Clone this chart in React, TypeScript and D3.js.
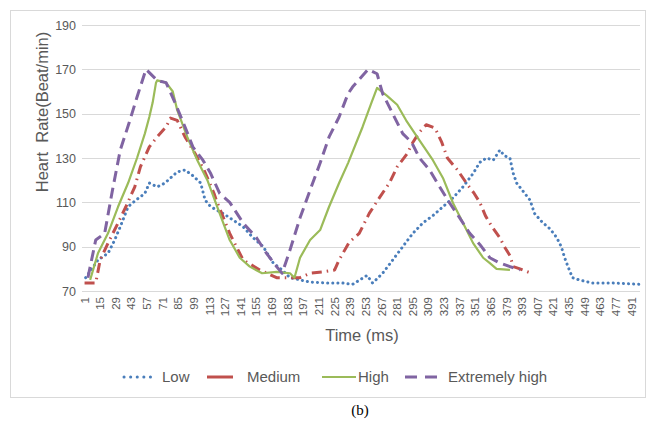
import React, { useEffect, useRef } from 'react'
import * as d3 from 'd3'

// [time index, heart rate]
const low: [number, number][] = [
  [2, 76], [13, 84], [22, 87], [28, 93], [33, 99], [40, 108], [47, 111], [55, 114], [59, 118.7],
  [66, 117], [73, 118.7], [78, 121], [84, 123.7], [91, 124.6], [98, 122], [105, 118.7], [109, 111],
  [114, 108], [125, 105], [134, 102], [143, 99], [152, 94], [161, 90], [170, 82.6], [178, 79.5],
  [185, 76], [194, 75], [203, 74], [218, 73.6], [232, 73.6], [241, 73], [254, 77], [259, 73.6],
  [268, 78], [277, 84], [286, 90], [295, 96], [304, 100.7], [313, 104], [322, 108], [331, 112],
  [340, 117], [349, 123], [355, 128], [361, 130], [367, 129], [373, 133.6], [377, 131], [382, 130],
  [385, 123], [388, 118.7], [393, 115.5], [400, 111], [404, 105], [411, 101], [418, 98], [424, 94],
  [428, 90], [431, 85], [434, 81], [438, 76], [444, 75], [456, 73.6], [474, 73.6], [498, 73]
]

const medium: [number, number][] = [
  [1, 73.6], [11, 73.6], [15, 84], [22, 91.6], [31, 100.7], [38, 108], [46, 117], [51, 126],
  [59, 135], [66, 139.5], [74, 144], [78, 148], [84, 147], [91, 139.5], [100, 132], [108, 124.6],
  [117, 114], [119, 111], [131, 96], [143, 84], [158, 79.5], [173, 76], [185, 76], [194, 76],
  [203, 78], [214, 78.6], [225, 79.5], [229, 84], [238, 92], [247, 96], [256, 105], [265, 112],
  [274, 118.7], [281, 126], [290, 132], [295, 137], [301, 141.7], [307, 145], [315, 143.5],
  [321, 137], [326, 130], [335, 124.6], [343, 118.7], [350, 114], [355, 110], [360, 104],
  [366, 98.9], [373, 94], [377, 90], [382, 86], [385, 81], [391, 80], [401, 78]
]

const high: [number, number][] = [
  [6, 75], [13, 87], [22, 96], [31, 108], [40, 118.7], [48, 130], [55, 141], [59, 148.5], [62, 155],
  [65, 164], [66, 165], [74, 164], [80, 160], [84, 151.6], [93, 139.5], [102, 129], [111, 120],
  [122, 105], [131, 93], [140, 85], [149, 81], [160, 78], [173, 78.6], [185, 78], [189, 76],
  [194, 85], [203, 93], [212, 97.5], [220, 108], [229, 118.7], [237, 127.7], [250, 144], [258, 155],
  [263, 161.6], [272, 158], [281, 154], [289, 147], [301, 138], [313, 129], [322, 121],
  [331, 109.7], [340, 100.7], [349, 91.6], [358, 85], [364, 82.6], [370, 80], [382, 79.5]
]

const extremelyHigh: [number, number][] = [
  [4, 76], [11, 93], [19, 96], [26, 115.5], [33, 133.6], [41, 146], [48, 157.5], [56, 170],
  [66, 165], [74, 164], [82, 155], [91, 144], [98, 135], [107, 129], [114, 123], [122, 114],
  [131, 110], [143, 100.7], [155, 94], [164, 87], [173, 81], [178, 78], [185, 88.5], [194, 103],
  [203, 115.5], [212, 127.7], [220, 139.5], [229, 148.5], [237, 159], [241, 162], [255, 170],
  [263, 168], [268, 159], [277, 150], [286, 141], [294, 137], [301, 130], [310, 124.6], [319, 117],
  [328, 109.7], [337, 103], [346, 96], [355, 91], [364, 85], [373, 82.6], [382, 81], [391, 79.5]
]

const yTicks = [70, 90, 110, 130, 150, 170, 190]
const xTicks = d3.range(1, 492, 14)
const seriesNames = ['Low', 'Medium', 'High', 'Extremely high']

const App = () => {
  const ref = useRef<SVGSVGElement>(null)

  useEffect(() => {
    const svg = d3.select(ref.current)
    svg.selectAll('*').remove()

    const font = 'Liberation Sans, Arial, sans-serif'
    const gray = '#595959'

    const x = d3.scaleLinear().domain([0.5, 498.5]).range([84, 640])
    const y = d3.scaleLinear().domain([70, 190]).range([291, 25])

    // outer frame
    svg.append('rect')
      .attr('x', 10.5).attr('y', 10.5).attr('width', 635).attr('height', 387)
      .attr('fill', 'white').attr('stroke', '#d9d9d9')

    // grid
    svg.append('g')
      .selectAll('line')
      .data(yTicks)
      .enter()
      .append('line')
      .attr('x1', 82).attr('x2', 640)
      .attr('y1', d => Math.round(y(d)) + 0.5).attr('y2', d => Math.round(y(d)) + 0.5)
      .attr('stroke', '#d9d9d9')

    // y tick labels
    svg.append('g')
      .selectAll('text')
      .data(yTicks)
      .enter()
      .append('text')
      .attr('x', 76).attr('y', d => y(d) + 4.5)
      .attr('text-anchor', 'end')
      .style('font-family', font).style('font-size', '12.5px').attr('fill', gray)
      .text(d => d)

    // x tick labels (rotated)
    svg.append('g')
      .selectAll('text')
      .data(xTicks)
      .enter()
      .append('text')
      .attr('transform', d => `translate(${x(d) + 4},297) rotate(-90)`)
      .attr('text-anchor', 'end')
      .style('font-family', font).style('font-size', '11.5px').attr('fill', gray)
      .text(d => d)

    // axis titles
    svg.append('text')
      .attr('transform', 'translate(48,112) rotate(-90)')
      .attr('text-anchor', 'middle')
      .style('font-family', font).style('font-size', '16.5px').attr('fill', gray)
      .style('white-space', 'pre')
      .text('Heart  Rate(Beat/min)')

    svg.append('text')
      .attr('x', 362).attr('y', 341)
      .attr('text-anchor', 'middle')
      .style('font-family', font).style('font-size', '16.5px').attr('fill', gray)
      .text('Time (ms)')

    const line = d3.line<[number, number]>()
      .x(d => x(d[0]))
      .y(d => y(d[1]))

    const styles = [
      { data: low, color: '#4a7ebb', width: 3, dash: '0.1,5', cap: 'round' },
      { data: medium, color: '#c0504d', width: 3, dash: '10,5,1.5,5', cap: 'butt' },
      { data: high, color: '#9bbb59', width: 2.2, dash: null, cap: 'butt' },
      { data: extremelyHigh, color: '#8064a2', width: 3, dash: '11,6', cap: 'butt' }
    ]

    styles.forEach(s => {
      svg.append('path')
        .datum(s.data)
        .attr('fill', 'none')
        .attr('stroke', s.color)
        .attr('stroke-width', s.width)
        .attr('stroke-linecap', s.cap)
        .attr('stroke-linejoin', 'round')
        .attr('stroke-dasharray', s.dash)
        .attr('d', line)
    })

    // legend
    const ly = 377
    const legend = svg.append('g')
    legend.append('line').attr('x1', 124).attr('x2', 157).attr('y1', ly).attr('y2', ly)
      .attr('stroke', styles[0].color).attr('stroke-width', 3)
      .attr('stroke-linecap', 'round').attr('stroke-dasharray', '0.1,6.5')
    legend.append('line').attr('x1', 207).attr('x2', 233).attr('y1', ly).attr('y2', ly)
      .attr('stroke', styles[1].color).attr('stroke-width', 3)
    legend.append('line').attr('x1', 322).attr('x2', 356).attr('y1', ly).attr('y2', ly)
      .attr('stroke', styles[2].color).attr('stroke-width', 2.2)
    legend.append('line').attr('x1', 405).attr('x2', 438).attr('y1', ly).attr('y2', ly)
      .attr('stroke', styles[3].color).attr('stroke-width', 3).attr('stroke-dasharray', '12,8')

    const textX = [162, 247, 358, 448]
    seriesNames.forEach((name, i) => {
      legend.append('text')
        .attr('x', textX[i]).attr('y', ly + 5)
        .style('font-family', font).style('font-size', '15px').attr('fill', gray)
        .text(name)
    })

    // caption
    svg.append('text')
      .attr('x', 360).attr('y', 415)
      .attr('text-anchor', 'middle')
      .style('font-family', 'Liberation Serif, Times New Roman, serif').style('font-size', '15px')
      .attr('fill', '#000')
      .text('(b)')
  }, [])

  return (
    <svg ref={ref} width={650} height={421}
      style={{ position: 'absolute', left: 0, top: 0, background: 'white' }} />
  )
}

export default App
